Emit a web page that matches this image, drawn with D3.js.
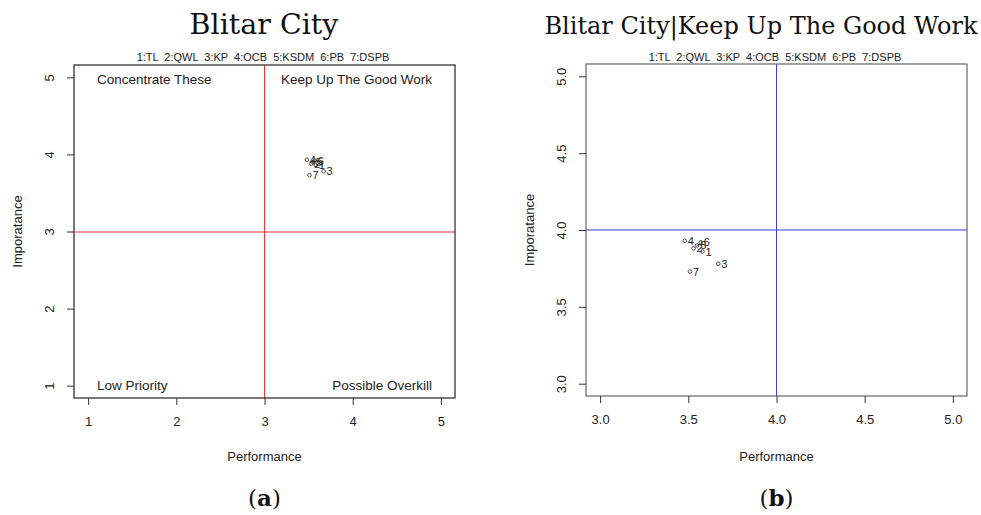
<!DOCTYPE html>
<html><head><meta charset="utf-8">
<script src="https://cdn.jsdelivr.net/npm/d3@7"></script>
<style>body{margin:0;background:#fff}svg{display:block}</style>
</head><body>
<script>
const ids = ["1","2","3","4","5","6","7"];
const codes = ["TL","QWL","KP","OCB","KSDM","PB","DSPB"];
const performance = [3.58, 3.53, 3.67, 3.48, 3.55, 3.57, 3.51];
const importance = [3.86, 3.88, 3.78, 3.93, 3.90, 3.92, 3.73];
const ticksA = [1,2,3,4,5];
const ticksB = [3.0,3.5,4.0,4.5,5.0];
const titles = ["Blitar City", "Blitar City|Keep Up The Good Work"];
const captions = ["a", "b"];
const quadLabels = ["Concentrate These","Keep Up The Good Work","Low Priority","Possible Overkill"];
const legendText = ids.map((d,i)=>d+":"+codes[i]).join("  ");

const W=981,H=515;
const svg=d3.select("body").append("svg").attr("width",W).attr("height",H);
const sans="Liberation Sans, Arial, sans-serif";
const serif="'DejaVu Serif', serif";

function panel(cfg){
  const x=d3.scaleLinear().domain(cfg.dom).range([cfg.l,cfg.r]);
  const y=d3.scaleLinear().domain(cfg.dom).range([cfg.b,cfg.t]);
  const g=svg.append("g");
  const cx=(cfg.l+cfg.r)/2;
  g.append("text").attr("x",cfg.titleX).attr("y",34).attr("text-anchor","middle")
    .attr("font-family",serif).attr("font-size",cfg.titleSize).attr("fill","#111").text(cfg.title);
  g.append("text").attr("x",cfg.legX).attr("y",61).attr("text-anchor","middle")
    .attr("font-family",sans).attr("font-size",11).attr("fill","#222")
    .style("white-space","pre").attr("xml:space","preserve").text(legendText);
  g.append("line").attr("x1",x(cfg.ref)).attr("x2",x(cfg.ref)).attr("y1",cfg.t).attr("y2",cfg.b)
    .attr("stroke",cfg.refColor).attr("stroke-width",1);
  const hy=Math.round(y(cfg.ref));
  g.append("line").attr("y1",hy).attr("y2",hy).attr("x1",cfg.l).attr("x2",cfg.r)
    .attr("stroke",cfg.refColor).attr("stroke-width",1.1);
  g.append("rect").attr("x",cfg.l).attr("y",cfg.t).attr("width",cfg.r-cfg.l).attr("height",cfg.b-cfg.t)
    .attr("fill","none").attr("stroke",cfg.boxColor).attr("stroke-width",1.2);
  const xa=g.append("g").attr("transform",`translate(0,${cfg.b})`)
    .call(d3.axisBottom(x).tickValues(cfg.ticks).tickSize(7).tickPadding(12).tickFormat(cfg.fmt));
  xa.select(".domain").remove();
  xa.selectAll("line").attr("stroke","#333");
  xa.selectAll("text").attr("font-family",sans).attr("font-size",13).attr("fill","#222");
  const ya=g.append("g").attr("transform",`translate(${cfg.l},0)`)
    .call(d3.axisLeft(y).tickValues(cfg.ticks).tickSize(7).tickFormat(cfg.fmt));
  ya.select(".domain").remove();
  ya.selectAll("line").attr("stroke","#333");
  ya.selectAll("text").attr("font-family",sans).attr("font-size",13).attr("fill","#222")
    .attr("x",0).attr("dy",null).attr("text-anchor","middle")
    .attr("transform","translate(-20,0) rotate(-90)").attr("dominant-baseline","auto");
  g.append("text").attr("x",cx).attr("y",461).attr("text-anchor","middle")
    .attr("font-family",sans).attr("font-size",13).attr("fill","#222").text("Performance");
  g.append("text").attr("transform",`translate(${cfg.l-52},${(cfg.t+cfg.b)/2}) rotate(-90)`)
    .attr("text-anchor","middle").attr("font-family",sans).attr("font-size",13).attr("fill","#222").text("Imporatance");
  const pts=g.append("g");
  pts.selectAll("circle").data(ids).join("circle")
    .attr("cx",(d,i)=>x(performance[i])).attr("cy",(d,i)=>y(importance[i])).attr("r",1.8)
    .attr("fill","none").attr("stroke","#222").attr("stroke-width",0.8);
  pts.selectAll("text").data(ids).join("text")
    .attr("x",(d,i)=>x(performance[i])+3).attr("y",(d,i)=>y(importance[i])+4)
    .attr("font-family",sans).attr("font-size",11).attr("fill","#222").text(d=>d);
  g.append("text").attr("x",cx).attr("y",506).attr("text-anchor","middle")
    .attr("font-family",serif).attr("font-size",23).attr("fill","#111")
    .html(`(<tspan font-weight="bold">${cfg.cap}</tspan>)`);
  return {g,x,y};
}

const A=panel({dom:[0.84,5.16],l:74,r:455,t:65,b:398,ticks:ticksA,fmt:d3.format("d"),ref:3,
  refColor:"#ff3030",boxColor:"#222",title:titles[0],titleSize:28.5,titleX:264,cap:captions[0],legX:263});
const qa=A.g;
const qy1=84, qy2=390;
const qs=13.5;
qa.append("text").attr("x",97).attr("y",qy1).attr("font-family",sans).attr("font-size",qs).attr("fill","#222").text(quadLabels[0]);
qa.append("text").attr("x",432).attr("y",qy1).attr("text-anchor","end").attr("font-family",sans).attr("font-size",qs).attr("fill","#222").text(quadLabels[1]);
qa.append("text").attr("x",97).attr("y",qy2).attr("font-family",sans).attr("font-size",qs).attr("fill","#222").text(quadLabels[2]);
qa.append("text").attr("x",432).attr("y",qy2).attr("text-anchor","end").attr("font-family",sans).attr("font-size",qs).attr("fill","#222").text(quadLabels[3]);

panel({dom:[2.92,5.08],l:586,r:967,t:64,b:396,ticks:ticksB,fmt:d3.format(".1f"),ref:4,
  refColor:"#3a3aff",boxColor:"#666",title:titles[1],titleSize:24,titleX:761,cap:captions[1],legX:775});
</script>
</body></html>
